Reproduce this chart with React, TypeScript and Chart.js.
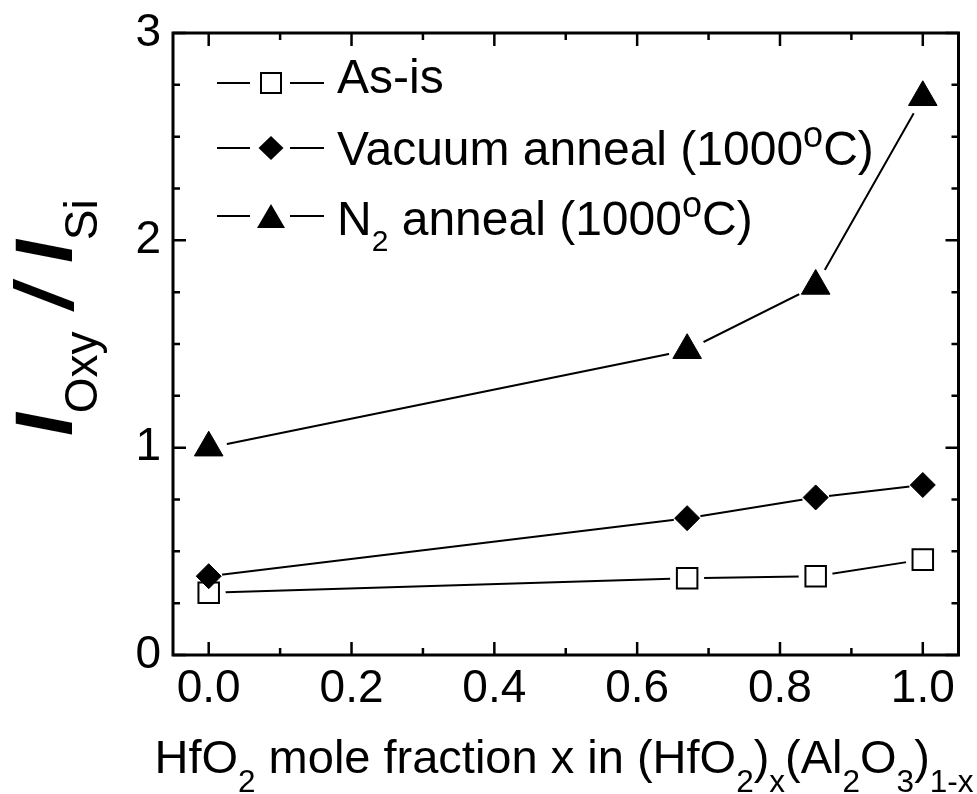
import React, { useEffect, useRef } from 'react';
import { Chart, registerables } from 'chart.js';

Chart.register(...registerables);

// ---- data ----
const xValues = [0, 0.67, 0.85, 1.0];
const asIsValues = [0.30, 0.37, 0.38, 0.46];
const vacuumValues = [0.38, 0.66, 0.76, 0.82];
const n2Values = [1.0, 1.47, 1.78, 2.69];

const xMajorTicks = [0, 0.2, 0.4, 0.6, 0.8, 1.0];
const xMinorTicks = [0.1, 0.3, 0.5, 0.7, 0.9];
const yMajorTicks = [0, 1, 2, 3];
const yMinorTicks = [0.25, 0.5, 0.75, 1.25, 1.5, 1.75, 2.25, 2.5, 2.75];

const FONT = "'Liberation Sans', Arial, Helvetica, sans-serif";

const toPoints = (ys: number[]) => xValues.map((x, i) => ({ x, y: ys[i] }));

const framePlugin = {
  id: 'frameTicks',
  afterDraw(chart: any) {
    const { ctx, chartArea: a, scales } = chart;
    const xs = scales.x;
    const ys = scales.y;
    ctx.save();
    ctx.strokeStyle = '#000';
    ctx.lineCap = 'butt';
    ctx.lineWidth = 2.5;
    ctx.beginPath();
    const vt = (v: number, len: number) => {
      const px = xs.getPixelForValue(v);
      ctx.moveTo(px, a.bottom);
      ctx.lineTo(px, a.bottom - len);
      ctx.moveTo(px, a.top);
      ctx.lineTo(px, a.top + len);
    };
    const ht = (v: number, len: number) => {
      const py = ys.getPixelForValue(v);
      ctx.moveTo(a.left, py);
      ctx.lineTo(a.left + len, py);
      ctx.moveTo(a.right, py);
      ctx.lineTo(a.right - len, py);
    };
    xMajorTicks.forEach((v) => vt(v, 13));
    xMinorTicks.forEach((v) => vt(v, 7));
    yMajorTicks.forEach((v) => ht(v, 13));
    yMinorTicks.forEach((v) => ht(v, 7));
    ctx.stroke();
    ctx.lineWidth = 3;
    ctx.strokeRect(a.left, a.top, a.right - a.left, a.bottom - a.top);
    ctx.restore();
  },
};

function seriesDatasets(
  ys: number[],
  pointStyle: string,
  radius: number,
  haloRadius: number,
  fillColor: string,
  borderWidth: number,
  markerOrder: number
) {
  const data = toPoints(ys);
  return [
    {
      data,
      showLine: true,
      borderColor: '#000',
      borderWidth: 2,
      pointRadius: 0,
      pointHoverRadius: 0,
      order: 3,
    },
    {
      data,
      showLine: false,
      pointStyle: 'circle',
      pointRadius: haloRadius,
      pointHoverRadius: haloRadius,
      pointBackgroundColor: '#fff',
      pointBorderColor: '#fff',
      pointBorderWidth: 0,
      order: 2,
    },
    {
      data,
      showLine: false,
      pointStyle,
      pointRadius: radius,
      pointHoverRadius: radius,
      pointBackgroundColor: fillColor,
      pointBorderColor: '#000',
      pointBorderWidth: borderWidth,
      order: markerOrder,
    },
  ];
}

function ChartCanvas() {
  const ref = useRef<HTMLCanvasElement | null>(null);
  useEffect(() => {
    if (!ref.current) return;
    const chart = new Chart(ref.current, {
      type: 'scatter',
      data: {
        datasets: [
          ...seriesDatasets(asIsValues, 'rect', 14.5, 17, '#fff', 2, 1.5),
          ...seriesDatasets(vacuumValues, 'rectRot', 12.5, 13.5, '#000', 1, 1),
          ...seriesDatasets(n2Values, 'triangle', 16.5, 18.5, '#000', 1, 1),
        ] as any,
      },
      options: {
        animation: false,
        responsive: false,
        devicePixelRatio: 1,
        events: [],
        layout: { padding: { top: 33, right: 18, left: 0, bottom: 0 } },
        plugins: {
          legend: { display: false },
          tooltip: { enabled: false },
        },
        scales: {
          x: {
            type: 'linear',
            min: -0.05,
            max: 1.05,
            grid: { display: false, drawTicks: false },
            border: { display: false },
            ticks: {
              color: '#000',
              font: { family: FONT, size: 46 },
              padding: 7,
              maxRotation: 0,
              autoSkip: false,
              callback: (v: any) => Number(v).toFixed(1),
            },
            afterBuildTicks: (s: any) => {
              s.ticks = xMajorTicks.map((v) => ({ value: v }));
            },
            afterFit: (s: any) => {
              s.height = 139;
              s.paddingLeft = 0;
              s.paddingRight = 0;
            },
          },
          y: {
            type: 'linear',
            min: 0,
            max: 3,
            grid: { display: false, drawTicks: false },
            border: { display: false },
            ticks: {
              color: '#000',
              font: { family: FONT, size: 46 },
              padding: 12,
              autoSkip: false,
              callback: (v: any) => String(v),
            },
            afterBuildTicks: (s: any) => {
              s.ticks = yMajorTicks.map((v) => ({ value: v }));
            },
            afterFit: (s: any) => {
              s.width = 173;
              s.paddingTop = 0;
              s.paddingBottom = 0;
            },
          },
        },
      } as any,
      plugins: [framePlugin],
    });
    return () => chart.destroy();
  }, []);
  return (
    <canvas
      ref={ref}
      width={977}
      height={794}
      style={{ position: 'absolute', left: 0, top: 0, display: 'block' }}
    />
  );
}

const subStyle = (size: number, drop: number): React.CSSProperties => ({
  fontSize: size,
  verticalAlign: `${-drop}px`,
  lineHeight: 0,
});
const supStyle = (size: number, rise: number): React.CSSProperties => ({
  fontSize: size,
  verticalAlign: `${rise}px`,
  lineHeight: 0,
});

function LegendSymbol({ kind, cy }: { kind: string; cy: number }) {
  const top = cy - 30;
  let marker: React.ReactNode = null;
  if (kind === 'square') {
    marker = <rect x={61} y={20} width={20} height={20} fill="#fff" stroke="#000" strokeWidth={2} />;
  } else if (kind === 'diamond') {
    marker = <polygon points="71,18 83.5,30 71,42 58.5,30" fill="#000" />;
  } else {
    marker = <polygon points="71,18 85,42 57,42" fill="#000" />;
  }
  return (
    <svg
      width={120}
      height={60}
      style={{ position: 'absolute', left: 200, top, overflow: 'visible' }}
    >
      <line x1={17} y1={30} x2={50} y2={30} stroke="#000" strokeWidth={2} />
      <line x1={90} y1={30} x2={124} y2={30} stroke="#000" strokeWidth={2} />
      {marker}
    </svg>
  );
}

export default function App() {
  const legendText: React.CSSProperties = {
    position: 'absolute',
    left: 337,
    fontFamily: FONT,
    fontSize: 48,
    lineHeight: '48px',
    whiteSpace: 'nowrap',
    color: '#000',
  };
  return (
    <div
      style={{
        position: 'absolute',
        left: 0,
        top: 0,
        width: 977,
        height: 794,
        overflow: 'hidden',
        background: '#fff',
      }}
    >
      <ChartCanvas />

      {/* legend */}
      <LegendSymbol kind="square" cy={83} />
      <LegendSymbol kind="diamond" cy={148} />
      <LegendSymbol kind="triangle" cy={216} />
      <div style={{ ...legendText, top: 53 }}>As-is</div>
      <div style={{ ...legendText, top: 125 }}>
        Vacuum anneal (1000<span style={supStyle(36, 18)}>o</span>C)
      </div>
      <div style={{ ...legendText, top: 195 }}>
        N<span style={subStyle(30, 16)}>2</span> anneal (1000
        <span style={supStyle(36, 18)}>o</span>C)
      </div>

      {/* x title */}
      <div
        style={{
          position: 'absolute',
          left: 564,
          top: 733,
          transform: 'translateX(-50%)',
          fontFamily: FONT,
          fontSize: 47,
          lineHeight: '48px',
          whiteSpace: 'nowrap',
          color: '#000',
        }}
      >
        HfO<span style={subStyle(31.5, 19)}>2</span> mole fraction x in (HfO
        <span style={subStyle(31.5, 19)}>2</span>)<span style={subStyle(31.5, 19)}>x</span>(Al
        <span style={subStyle(31.5, 19)}>2</span>O<span style={subStyle(31.5, 19)}>3</span>)
        <span style={subStyle(31.5, 19)}>1-x</span>
      </div>

      {/* y title */}
      <div
        style={{
          position: 'absolute',
          left: 3,
          top: 436,
          transformOrigin: '0 0',
          transform: 'rotate(-90deg)',
          fontFamily: FONT,
          fontSize: 82,
          lineHeight: '82px',
          whiteSpace: 'nowrap',
          color: '#000',
        }}
      >
        <span style={{ fontWeight: 700, fontStyle: 'italic' }}>I</span>
        <span style={subStyle(46, 25)}>Oxy</span>
        <span style={{ fontWeight: 700, fontStyle: 'italic' }}> / I</span>
        <span style={subStyle(46, 25)}>Si</span>
      </div>
    </div>
  );
}
